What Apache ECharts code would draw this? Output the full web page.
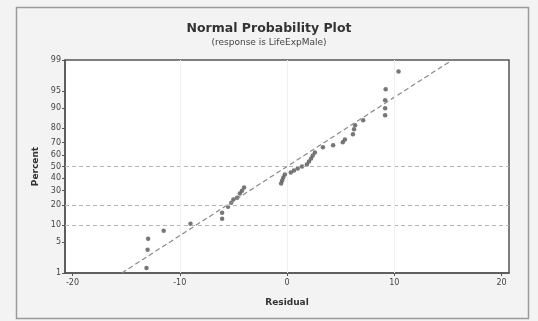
<!DOCTYPE html>
<html>
<head>
<meta charset="utf-8">
<script src="https://cdn.jsdelivr.net/npm/echarts@6/dist/echarts.min.js"></script>
<style>
html,body{margin:0;padding:0;background:#f3f3f3;}
#c{width:538px;height:321px;}
</style>
</head>
<body>
<div id="c"></div>
<script>
// ---- data ----
const residuals = [-13.1,-13.0,-12.95,-11.5,-9.0,-6.05,-6.05,-5.5,-5.2,-5.0,-4.65,-4.4,-4.2,-4.0,
  -0.55,-0.45,-0.35,-0.2,0.35,0.65,1.0,1.4,1.85,2.05,2.25,2.4,2.6,3.35,4.3,5.2,5.4,6.15,6.25,6.35,7.1,
  9.15,9.15,9.15,9.2,10.4];
const percents = [1.33,3.43,5.7,8.0,10.6,12.7,15.6,19.0,21.5,23.5,24.8,27.7,29.9,32.3,
  35.5,38.0,40.5,43.1,44.8,46.5,48.3,50.0,51.8,54.4,57.0,59.6,62.1,66.2,67.8,70.1,72.3,75.9,79.2,81.6,84.4,
  86.8,89.8,92.6,95.4,98.1];
const fitResidual = [-15.4, 15.4];
const fitPercent = [1, 99];
const yTicks = [1,5,10,20,30,40,50,60,70,80,90,95,99];
const xTicks = [-20,-10,0,10,20];
const refPercents = [10,20,50];
const refResiduals = [-10,0,10];

// inverse standard normal (probability scale transform)
function invNorm(p){
  const a=[-3.969683028665376e+01,2.209460984245205e+02,-2.759285104469687e+02,1.383577518672690e+02,-3.066479806614716e+01,2.506628277459239e+00];
  const b=[-5.447609879822406e+01,1.615858368580409e+02,-1.556989798598866e+02,6.680131188771972e+01,-1.328068155288572e+01];
  const c=[-7.784894002430293e-03,-3.223964580411365e-01,-2.400758277161838e+00,-2.549732539343734e+00,4.374664141464968e+00,2.938163982698783e+00];
  const d=[7.784695709041462e-03,3.224671290700398e-01,2.445134137142996e+00,3.754408661907416e+00];
  const pl=0.02425, ph=1-pl; let q,r;
  if(p<pl){q=Math.sqrt(-2*Math.log(p));return (((((c[0]*q+c[1])*q+c[2])*q+c[3])*q+c[4])*q+c[5])/((((d[0]*q+d[1])*q+d[2])*q+d[3])*q+1);}
  if(p<=ph){q=p-0.5;r=q*q;return (((((a[0]*r+a[1])*r+a[2])*r+a[3])*r+a[4])*r+a[5])*q/(((((b[0]*r+b[1])*r+b[2])*r+b[3])*r+b[4])*r+1);}
  q=Math.sqrt(-2*Math.log(1-p));return -(((((c[0]*q+c[1])*q+c[2])*q+c[3])*q+c[4])*q+c[5])/((((d[0]*q+d[1])*q+d[2])*q+d[3])*q+1);
}
const z = p => invNorm(p/100);
const yTickZ = yTicks.map(z);
const zmin = z(1), zmax = z(99);

const pts = residuals.map((r,i)=>[r, z(percents[i])]);
const fit = fitResidual.map((r,i)=>[r, z(fitPercent[i])]);

const chart = echarts.init(document.getElementById('c'));
const tickFont = {fontFamily:'DejaVu Sans', fontSize:8, color:'#444'};
chart.setOption({
  animation:false,
  backgroundColor:'#f3f3f3',
  graphic:[
    {type:'rect', left:14, top:5, shape:{width:512, height:311}, style:{fill:'none', stroke:'#9a9a9a', lineWidth:1.5}, silent:true}
  ],
  title:{
    text:'Normal Probability Plot',
    subtext:'(response is LifeExpMale)',
    left:'center', top:17, itemGap:3,
    textStyle:{fontFamily:'DejaVu Sans', fontWeight:'bold', fontSize:12.5, color:'#333'},
    subtextStyle:{fontFamily:'DejaVu Sans', fontSize:9, color:'#444'}
  },
  grid:{left:65, right:29, top:60, bottom:48, show:true, backgroundColor:'#ffffff', borderColor:'#555', borderWidth:1.5},
  xAxis:{
    type:'value', min:-20.7, max:20.7,
    name:'Residual', nameLocation:'middle', nameGap:25,
    nameTextStyle:{fontFamily:'DejaVu Sans', fontWeight:'bold', fontSize:9, color:'#333'},
    axisLine:{show:true, onZero:false, lineStyle:{color:'#555', width:1.5}},
    axisTick:{show:true, customValues:xTicks, length:3, lineStyle:{color:'#555'}},
    axisLabel:Object.assign({customValues:xTicks, margin:6, formatter:v=>String(Math.round(v))}, tickFont),
    splitLine:{show:false}
  },
  yAxis:{
    type:'value', min:zmin, max:zmax,
    name:'Percent', nameLocation:'middle', nameGap:23, nameRotate:90,
    nameTextStyle:{fontFamily:'DejaVu Sans', fontWeight:'bold', fontSize:9, color:'#333'},
    axisLine:{show:true, onZero:false, lineStyle:{color:'#555', width:1.5}},
    axisTick:{show:true, customValues:yTickZ, length:3, lineStyle:{color:'#555'}},
    axisLabel:Object.assign({customValues:yTickZ, margin:4, formatter:function(v){
      let best=yTicks[0], bd=1e9; yTicks.forEach((t,i)=>{const dd=Math.abs(yTickZ[i]-v); if(dd<bd){bd=dd;best=t;}}); return String(best);
    }}, tickFont),
    splitLine:{show:false}
  },
  series:[
    {
      type:'line', data:fit, symbol:'none', silent:true,
      lineStyle:{color:'#8a8a8a', width:1.2, type:[5,3]},
      markLine:{
        silent:true, symbol:'none', label:{show:false},
        data: refPercents.map(p=>({yAxis:z(p), lineStyle:{color:'#b5b5b5', type:[4,3], width:1}}))
          .concat(refResiduals.map(r=>({xAxis:r, lineStyle:{color:'#efefef', type:'solid', width:1}})))
      }
    },
    {
      type:'scatter', data:pts, symbol:'circle', symbolSize:4.5,
      itemStyle:{color:'#555'}
    }
  ]
});
</script>
</body>
</html>
